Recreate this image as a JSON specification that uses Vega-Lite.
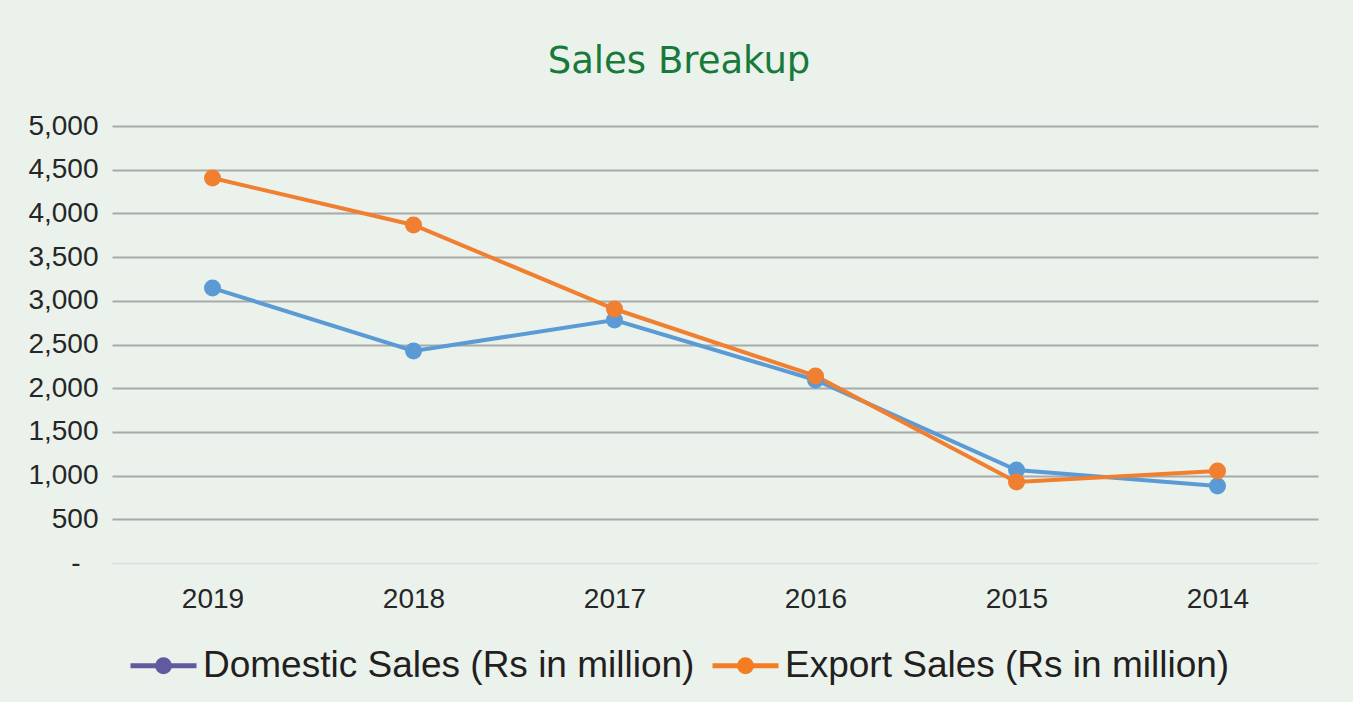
{
  "$schema": "https://vega.github.io/schema/vega-lite/v6.json",
  "width": 1206,
  "height": 437,
  "autosize": "none",
  "padding": {"left": 112, "top": 126, "right": 35, "bottom": 139},
  "background": "#EBF2EC",
  "title": {
    "text": "Sales Breakup",
    "font": "DejaVu Sans",
    "fontSize": 37,
    "fontWeight": "normal",
    "color": "#187A3A",
    "anchor": "middle",
    "dx": -36,
    "offset": 2,
    "baseline": "alphabetic"
  },
  "data": {
    "values": [
      {"year": "2019", "series": "Domestic Sales (Rs in million)", "value": 3146},
      {"year": "2018", "series": "Domestic Sales (Rs in million)", "value": 2426},
      {"year": "2017", "series": "Domestic Sales (Rs in million)", "value": 2780},
      {"year": "2016", "series": "Domestic Sales (Rs in million)", "value": 2094},
      {"year": "2015", "series": "Domestic Sales (Rs in million)", "value": 1064},
      {"year": "2014", "series": "Domestic Sales (Rs in million)", "value": 881},
      {"year": "2019", "series": "Export Sales (Rs in million)", "value": 4405},
      {"year": "2018", "series": "Export Sales (Rs in million)", "value": 3867},
      {"year": "2017", "series": "Export Sales (Rs in million)", "value": 2906},
      {"year": "2016", "series": "Export Sales (Rs in million)", "value": 2140},
      {"year": "2015", "series": "Export Sales (Rs in million)", "value": 927},
      {"year": "2014", "series": "Export Sales (Rs in million)", "value": 1053}
    ]
  },
  "encoding": {
    "x": {
      "field": "year",
      "type": "ordinal",
      "sort": ["2019", "2018", "2017", "2016", "2015", "2014"],
      "scale": {"type": "point", "padding": 0.5},
      "axis": {
        "title": null,
        "labelAngle": 0,
        "domain": false,
        "ticks": false,
        "grid": false,
        "labelFont": "Liberation Sans",
        "labelFontSize": 28,
        "labelColor": "#262626",
        "labelPadding": 22
      }
    },
    "y": {
      "field": "value",
      "type": "quantitative",
      "scale": {"domain": [0, 5000], "nice": false},
      "axis": {
        "title": null,
        "values": [0, 500, 1000, 1500, 2000, 2500, 3000, 3500, 4000, 4500, 5000],
        "labelExpr": "datum.value === 0 ? '-' : format(datum.value, ',')",
        "domain": false,
        "ticks": false,
        "grid": true,
        "gridColor": {"condition": {"test": "datum.value === 0", "value": "#DCDCDC"}, "value": "#A9A9A9"},
        "gridWidth": {"condition": {"test": "datum.value === 0", "value": 1.5}, "value": 2.2},
        "labelFont": "Liberation Sans",
        "labelFontSize": 28,
        "labelColor": "#262626",
        "labelPadding": {"condition": {"test": "datum.value === 0", "value": 32}, "value": 14}
      }
    }
  },
  "layer": [
    {
      "mark": {"type": "line", "strokeWidth": 4},
      "encoding": {
        "stroke": {
          "field": "series",
          "type": "nominal",
          "scale": {"range": ["#5B9BD5", "#F07F30"]},
          "legend": null
        }
      }
    },
    {
      "mark": {"type": "point", "filled": true, "size": 290, "opacity": 1},
      "encoding": {
        "fill": {
          "field": "series",
          "type": "nominal",
          "scale": {"range": ["#5B9BD5", "#F07F30"]},
          "legend": null
        }
      }
    },
    {
      "transform": [{"filter": "false"}],
      "mark": {"type": "point", "filled": false, "opacity": 1},
      "encoding": {
        "color": {
          "field": "series",
          "type": "nominal",
          "scale": {"domain": ["Domestic Sales (Rs in million)", "Export Sales (Rs in million)"], "range": ["#605A9E", "#F47C22"]},
          "legend": {
            "title": null,
            "orient": "none",
            "legendX": 16,
            "legendY": 504,
            "direction": "horizontal",
            "padding": 0,
            "labelFont": "Liberation Sans",
            "labelFontSize": 37,
            "labelColor": "#231F20",
            "labelOffset": 4,
            "labelLimit": 0,
            "columnPadding": 7,
            "symbolType": "M-1,0L1,0M-0.18,0A0.18,0.18,0,1,1,0.18,0A0.18,0.18,0,1,1,-0.18,0M-0.08,0A0.08,0.08,0,1,1,0.08,0A0.08,0.08,0,1,1,-0.08,0",
            "symbolSize": 4356,
            "symbolStrokeWidth": 5,
            "symbolOpacity": 1
          }
        }
      }
    }
  ],
  "config": {
    "view": {"stroke": null}
  }
}
